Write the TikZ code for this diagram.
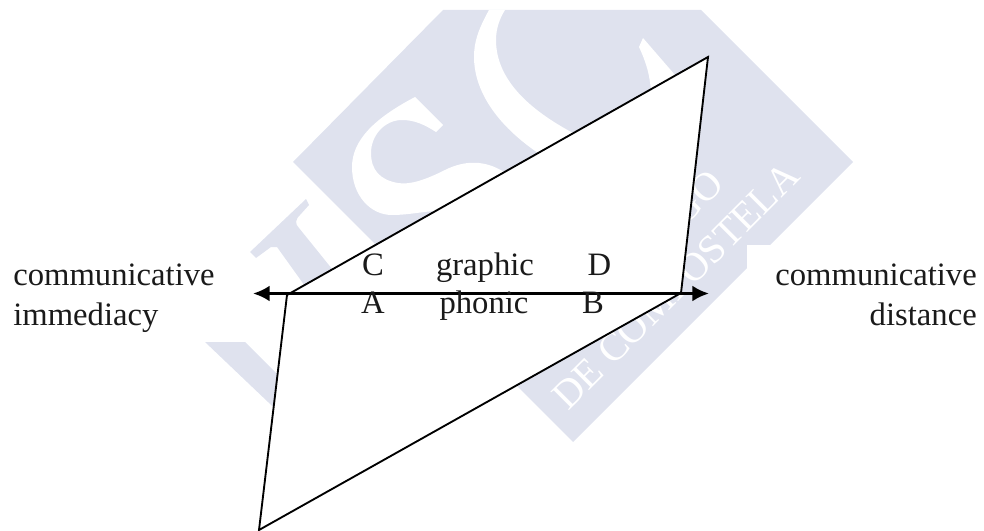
\documentclass[tikz,border=0pt]{standalone}
\usepackage{fontspec}
\setmainfont{Liberation Serif}
\usetikzlibrary{arrows.meta}
\definecolor{Seal}{HTML}{DFE2EE}
\definecolor{DarkText}{HTML}{1A1A1A}
\tikzset{
  lbl/.style={inner sep=0pt, anchor=base, text=DarkText, font=\fontsize{24.5pt}{28.5pt}\selectfont},
  sealtext/.style={inner sep=0pt, text=white, rotate=45, font=\fontsize{30pt}{30pt}\selectfont},
  edge/.style={draw=black, line width=1.4pt},
  arr/.style={{Latex[length=12.5pt,width=12pt]}-{Latex[length=12.5pt,width=12pt]}, line width=2.3pt, draw=black}
}
\begin{document}
\begin{tikzpicture}[x=.75pt,y=-.75pt]
\useasboundingbox (0,0) rectangle (984,531);
\fill[Seal] (443,10) -- (701,10) -- (853,162) -- (573,442) -- (293,162) -- cycle;
\fill[Seal] (250,252) -- (306,199) -- (309,205) -- (300,215) .. controls (295,220) and (295,224) .. (299,228) -- (345,285) -- (315,300) -- (277,247) -- (271,247) -- (256,258) -- cycle;
\fill[Seal] (205,342) -- (245,342) -- (310,407) -- (310,442) -- cycle;
\fill[white] (415,97) .. controls (375,118) and (352,140) .. (352,167) .. controls (352,195) and (370,215) .. (392,215) .. controls (420,215) and (440,205) .. (480,215) -- (520,190) -- (504,172) .. controls (485,160) and (465,160) .. (445,170) .. controls (425,180) and (410,185) .. (398,183) .. controls (380,180) and (371,170) .. (371,153) .. controls (371,135) and (385,120) .. (402,120) .. controls (415,120) and (425,125) .. (436,132) -- (443,125) -- cycle;
\fill[white] (489,10) .. controls (478,30) and (474,42) .. (474,57) .. controls (474,85) and (490,120) .. (538,153) -- (560,160) -- (573,133) .. controls (530,110) and (496,80) .. (496,40) .. controls (496,28) and (500,18) .. (505,10) -- cycle;
\fill[white] (643,38) -- (639,47) .. controls (646,62) and (650,75) .. (651,92) -- (675,75) -- cycle;
\node[sealtext,anchor=base] (wmlow) at (685,295) {DE COMPOSTELA};
\node[sealtext,anchor=base east] (wmhigh) at (726,186) {SANTIAGO};
\fill[white] (747,245) rectangle (984,345);
\coordinate (apex) at (708,57);
\coordinate (lcorner) at (287,295);
\coordinate (rcorner) at (681,293);
\coordinate (foot) at (259,530);
\fill[white] (apex) -- (lcorner) -- (foot) -- (rcorner) -- cycle;
\draw[edge] (lcorner) -- (apex) -- (rcorner) -- (foot) -- (lcorner);
\coordinate (imm) at (253,293.5);
\coordinate (dist) at (709,293.5);
\draw[arr] (imm) -- (dist);
\node[lbl] (c) at (373,275) {C};
\node[lbl] (graphic) at (485,275) {graphic};
\node[lbl] (d) at (599.5,275) {D};
\node[lbl] (a) at (373,313) {A};
\node[lbl] (phonic) at (484,313) {phonic};
\node[lbl] (b) at (593,313) {B};
\node[lbl,anchor=base west] (near1) at (13,285) {communicative};
\node[lbl,anchor=base west] (near2) at (13,325) {immediacy};
\node[lbl,anchor=base east] (far1) at (977,285) {communicative};
\node[lbl,anchor=base east] (far2) at (977,325) {distance};
\end{tikzpicture}
\end{document}
